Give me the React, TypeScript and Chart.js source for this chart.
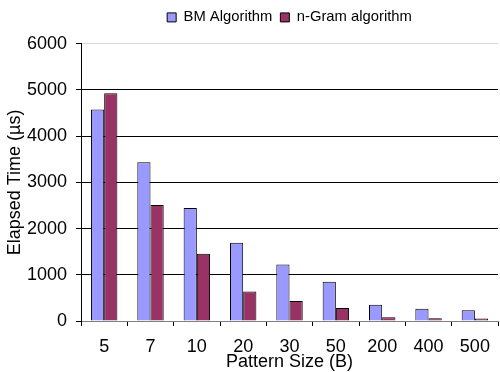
import React, { useEffect, useRef } from "react";
import { Chart, registerables } from "chart.js";

Chart.register(...registerables);

const categories = ["5", "7", "10", "20", "30", "50", "200", "400", "500"];
const bmValues = [4580, 3435, 2446, 1696, 1222, 849, 353, 267, 230];
const ngramValues = [4928, 2511, 1453, 640, 431, 280, 80, 58, 55];
const yTicks = [0, 1000, 2000, 3000, 4000, 5000, 6000];

const FONT = "'Liberation Sans', Arial, Helvetica, sans-serif";

const legendGap = {
  id: "legendGap",
  beforeUpdate(chart: any) {
    const lg = chart.legend;
    if (lg && !lg.__patched) {
      const orig = lg.fit.bind(lg);
      lg.fit = function () {
        orig();
        this.height += 9;
      };
      lg.__patched = true;
    }
  },
};

export default function App() {
  const ref = useRef<HTMLCanvasElement | null>(null);

  useEffect(() => {
    document.body.style.margin = "0";
    const canvas = ref.current;
    if (!canvas) return;
    const chart = new Chart(canvas, {
      type: "bar",
      data: {
        labels: categories,
        datasets: [
          {
            label: "BM Algorithm",
            data: bmValues,
            backgroundColor: "#9999FF",
            borderColor: "#000000",
            borderWidth: 1,
            categoryPercentage: 0.57,
            barPercentage: 1,
          },
          {
            label: "n-Gram algorithm",
            data: ngramValues,
            backgroundColor: "#993366",
            borderColor: "#000000",
            borderWidth: 1,
            categoryPercentage: 0.57,
            barPercentage: 1,
          },
        ],
      },
      plugins: [legendGap],
      options: {
        animation: false,
        responsive: false,
        maintainAspectRatio: false,
        layout: { padding: { top: 2, right: 0, bottom: 0, left: 0 } },
        plugins: {
          tooltip: { enabled: false },
          legend: {
            display: true,
            position: "top",
            fullSize: false,
            labels: {
              boxWidth: 9,
              boxHeight: 9,
              padding: 8,
              color: "#000",
              font: { family: FONT, size: 14.8 },
            },
          },
        },
        scales: {
          x: {
            offset: true,
            grid: {
              offset: true,
              drawOnChartArea: false,
              drawTicks: true,
              tickLength: 5,
              tickColor: "#000",
              color: "#000",
            },
            border: { display: true, color: "#808080", width: 1 },
            ticks: {
              color: "#000",
              padding: 10,
              font: { family: FONT, size: 18 },
              maxRotation: 0,
              autoSkip: false,
            },
            title: {
              display: true,
              text: "Pattern Size (B)",
              color: "#000",
              font: { family: FONT, size: 18 },
              padding: { top: 0, bottom: -1 },
            },
            afterFit: (s: any) => {
              s.height = 51;
            },
          },
          y: {
            min: 0,
            max: 6000,
            afterBuildTicks: (s: any) => {
              s.ticks = yTicks.map((v) => ({ value: v }));
            },
            grid: {
              drawTicks: true,
              tickLength: 5,
              tickColor: "#000",
              color: (ctx: any) =>
                ctx.tick && ctx.tick.value === 6000 ? "#d9d9d9" : "#000",
            },
            border: { display: true, color: "#000", width: 1 },
            ticks: {
              color: "#000",
              padding: 9,
              font: { family: FONT, size: 18 },
              callback: (v: any) => String(v),
            },
            title: {
              display: true,
              text: "Elapsed Time (µs)",
              color: "#000",
              font: { family: FONT, size: 18 },
              padding: { top: 4, bottom: 0 },
            },
            afterFit: (s: any) => {
              s.width = 81;
            },
          },
        },
      },
    });
    return () => chart.destroy();
  }, []);

  return (
    <div style={{ width: 500, height: 372, background: "#fff" }}>
      <canvas ref={ref} width={500} height={372} style={{ width: 500, height: 372, display: "block" }} />
    </div>
  );
}
